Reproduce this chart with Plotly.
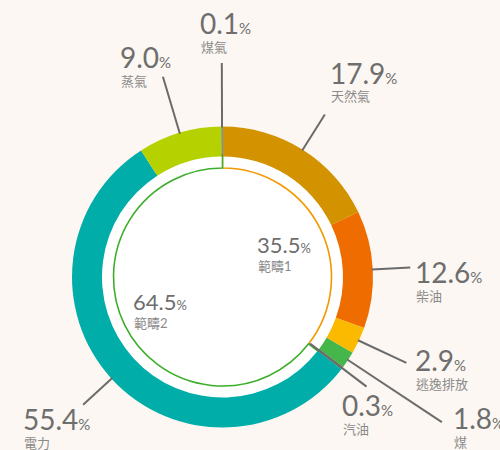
import math
import plotly.graph_objects as go

# ---- data ----
categories = ["天然氣", "柴油", "逃逸排放", "煤", "汽油", "電力", "蒸氣", "煤氣"]
values = [17.9, 12.6, 2.9, 1.8, 0.3, 55.4, 9.0, 0.1]
scopes = ["範疇1", "範疇2"]
scope_values = [35.5, 64.5]

# ---- styles / layout constants ----
colors = ["#D39200", "#EE6C00", "#FBBA00", "#45B649", "#5E7F55", "#00ADA9", "#B6D100", "#1F5FC0"]
scope_colors = ["#F39800", "#3DAE2B"]
W, H = 500, 450
CX, CY = 222.5, 277.0
R_OUT, R_IN, R_RING = 150.5, 120.5, 109.0
LINE_START = [R_OUT - 1] * 4 + [110] + [R_OUT - 1] * 3
LINE_END = [192, 188, 203, 263, 181, 189, 209, 214]
LABEL_POS = [(330, 63), (415, 262), (415, 350), (453, 408), (342, 395), (23, 409), (120, 47), (200, 13)]
SCOPE_POS = [(257, 236), (133, 293)]
NUM_COLOR = "#6e6e6e"
NAME_COLOR = "#8a8a8a"
FONT = "Lato, 'Noto Sans CJK TC', sans-serif"


def dom(r):
    return dict(x=[(CX - r) / W, (CX + r) / W], y=[(H - CY - r) / H, (H - CY + r) / H])


def px(x, y):
    return x / W, 1 - y / H


fig = go.Figure()
# white centre disc
fig.add_trace(go.Pie(values=[1], labels=[""], marker=dict(colors=["white"], line=dict(width=0)),
                     domain=dom(R_RING), textinfo="none", hoverinfo="skip", sort=False, showlegend=False))
# inner scope ring (outlined)
fig.add_trace(go.Pie(values=scope_values, labels=scopes, hole=R_RING / (R_IN + 1.5),
                     marker=dict(colors=["white", "white"], line=dict(color=scope_colors, width=1.6)),
                     domain=dom(R_IN + 1.5), direction="clockwise", sort=False, rotation=0,
                     textinfo="none", showlegend=False))
# outer ring
fig.add_trace(go.Pie(values=values, labels=categories, hole=R_IN / R_OUT,
                     marker=dict(colors=colors, line=dict(width=0)),
                     domain=dom(R_OUT), direction="clockwise", sort=False, rotation=0,
                     textinfo="none", showlegend=False))

shapes = []
annotations = []
total = sum(values)
cum = 0.0
for i, (cat, v) in enumerate(zip(categories, values)):
    mid = (cum + v / 2) / total * 2 * math.pi
    cum += v
    x1, y1 = CX + LINE_START[i] * math.sin(mid), CY - LINE_START[i] * math.cos(mid)
    x2, y2 = CX + LINE_END[i] * math.sin(mid), CY - LINE_END[i] * math.cos(mid)
    a, b = px(x1, y1)
    c, d = px(x2, y2)
    shapes.append(dict(type="line", xref="paper", yref="paper", x0=a, y0=b, x1=c, y1=d,
                       line=dict(color="#6b6b6b", width=2)))
    lx, ly = LABEL_POS[i]
    ax, ay = px(lx - 2, ly - 9)
    annotations.append(dict(xref="paper", yref="paper", x=ax, y=ay, xanchor="left", yanchor="top",
                            showarrow=False,
                            text=f"{v:.1f}<span style='font-size:15px'>%</span>",
                            font=dict(family=FONT, size=28, color=NUM_COLOR)))
    nx, ny = px(lx - 1, ly + 28.5 - 5)
    annotations.append(dict(xref="paper", yref="paper", x=nx, y=ny, xanchor="left", yanchor="top",
                            showarrow=False, text=cat,
                            font=dict(family=FONT, size=13, color=NAME_COLOR)))

for i, (s, v) in enumerate(zip(scopes, scope_values)):
    lx, ly = SCOPE_POS[i]
    ax, ay = px(lx - 2, ly - 7)
    annotations.append(dict(xref="paper", yref="paper", x=ax, y=ay, xanchor="left", yanchor="top",
                            showarrow=False,
                            text=f"{v:.1f}<span style='font-size:13px'>%</span>",
                            font=dict(family=FONT, size=22, color=NUM_COLOR)))
    nx, ny = px(lx - 1, ly + 25 - 5)
    annotations.append(dict(xref="paper", yref="paper", x=nx, y=ny, xanchor="left", yanchor="top",
                            showarrow=False, text=s,
                            font=dict(family=FONT, size=13, color=NAME_COLOR)))

fig.update_layout(width=W, height=H, margin=dict(l=0, r=0, t=0, b=0),
                  paper_bgcolor="#FCF7F2", plot_bgcolor="#FCF7F2",
                  shapes=shapes, annotations=annotations, showlegend=False)
fig.write_html("out.html")
